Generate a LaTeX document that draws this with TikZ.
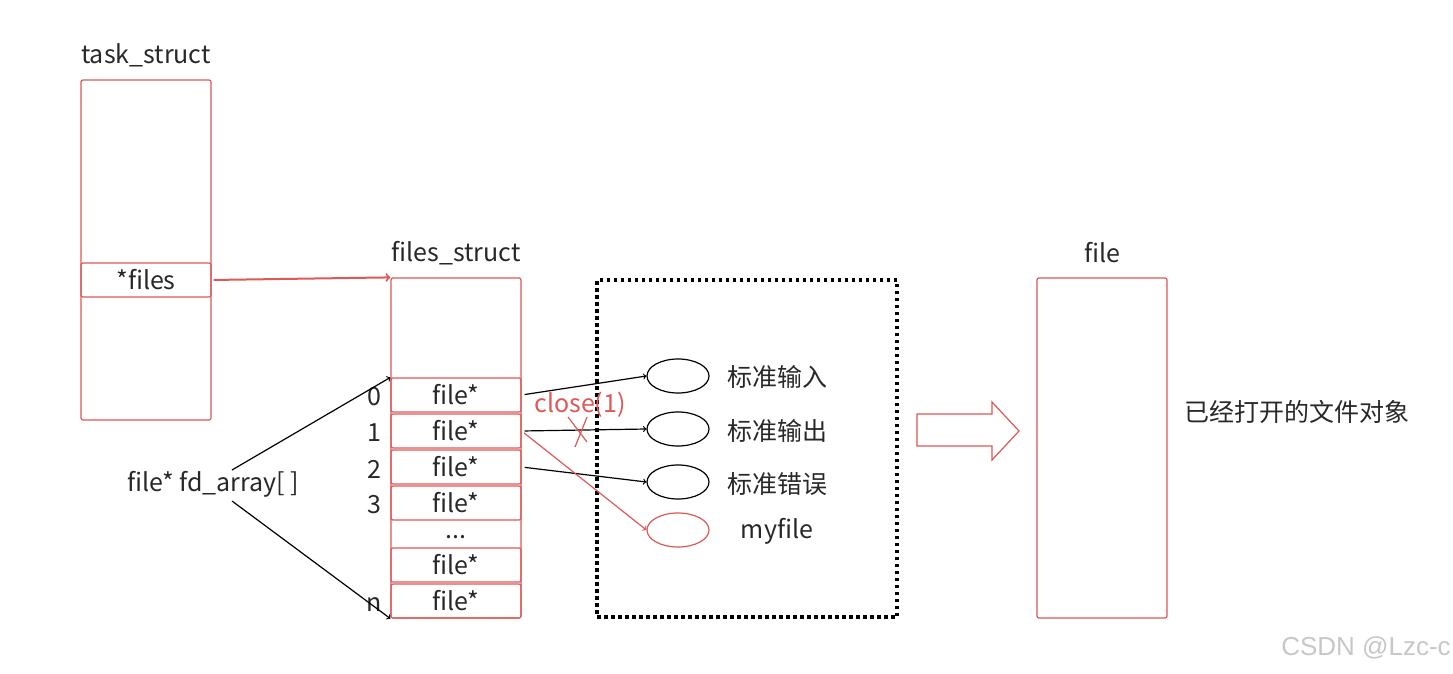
\documentclass[tikz,border=0pt]{standalone}
\usepackage{fontspec}
\setmainfont{Noto Sans CJK SC}
\newfontfamily\markfont{Liberation Sans}
\usetikzlibrary{shapes.geometric}
\definecolor{boxred}{RGB}{222,88,88}
\definecolor{ink}{RGB}{40,40,40}

\begin{document}
\begin{tikzpicture}[x=1pt,y=-1pt,
  every node/.style={text=ink, font=\fontsize{25}{28}\selectfont, inner sep=0pt},
  redbox/.style={draw=boxred, line width=1.2pt, rounded corners=2pt, minimum width=130pt},
  cell/.style={redbox, minimum height=34pt},
  hole/.style={draw, ellipse, line width=1.2pt, minimum width=62pt, minimum height=34pt}]
\useasboundingbox (0,0) rectangle (1453,674);
\node[redbox, minimum height=340pt] (task) at (146,250) {};
\node[cell] (files) at (146,280) {*files};
\node (tasklbl) at (146,55) {task\_struct};
\node[redbox, minimum height=340pt] (fs) at (456,448) {};
\node (fslbl) at (456,253) {files\_struct};
\foreach \n/\y in {0/395,1/431,2/467,3/503,5/565,n/601}
  \node[cell] (c\n) at (456,\y) {file*};
\node (dots) at (456,537) {...};
\foreach \t/\y in {0/397,1/433,2/469,3/505,n/605}
  \node (i\t) at (374,\y) {\t};
\node (fd) at (213,484) {file* fd\_array[\ ]};
\coordinate (fdup) at (232,470);
\coordinate (fddown) at (232,501);
\draw[->, line width=1.2pt] (fdup) -- (c0.north west);
\draw[->, line width=1.2pt] (fddown) -- (cn.south west);
\draw[boxred, line width=2pt, ->, shorten <=2pt] (files.east) -- (fs.north west);
% opened files
\node[draw, line width=3.5pt, dash pattern=on 3.5pt off 3.5pt, minimum width=300pt, minimum height=337pt] (area) at (747,448.5) {};
\node[hole] (e0) at (678,376) {};
\node[hole] (e1) at (678,429) {};
\node[hole] (e2) at (678,482) {};
\node[hole, draw=boxred] (e3) at (678,530) {};
\node (l0) at (777,377) {标准输入};
\node (l1) at (777,431) {标准输出};
\node (l2) at (777,484) {标准错误};
\node (l3) at (777,531) {myfile};
\draw[->, line width=1.2pt, shorten <=3pt] (c0.east) -- (e0.west);
\draw[->, line width=1.2pt, shorten <=3pt] (c1.east) -- (e1.west);
\draw[->, line width=1.2pt, shorten <=3pt] (c2.east) -- (e2.west);
\draw[->, line width=1.2pt, boxred, shorten <=3pt] (c1.east) -- (e3.west);
\node[text=boxred] (close) at (580,405) {close(1)};
\draw[boxred, line width=1.2pt] (568,417) -- (587,442) (587,417) -- (575,447);
\draw[boxred, line width=1.2pt] (917,414) -- (992,414) -- (992,402) -- (1019,431) -- (992,460) -- (992,446) -- (917,446) -- cycle;
\node[redbox, minimum height=340pt] (fobj) at (1102,448) {};
\node (flbl) at (1102,253) {file};
\node (fnote) at (1297,412) {已经打开的文件对象};
\node[text=black!22, font=\markfont\fontsize{26}{30}\selectfont] (mark) at (1366,648) {CSDN @Lzc-c};
\end{tikzpicture}
\end{document}
